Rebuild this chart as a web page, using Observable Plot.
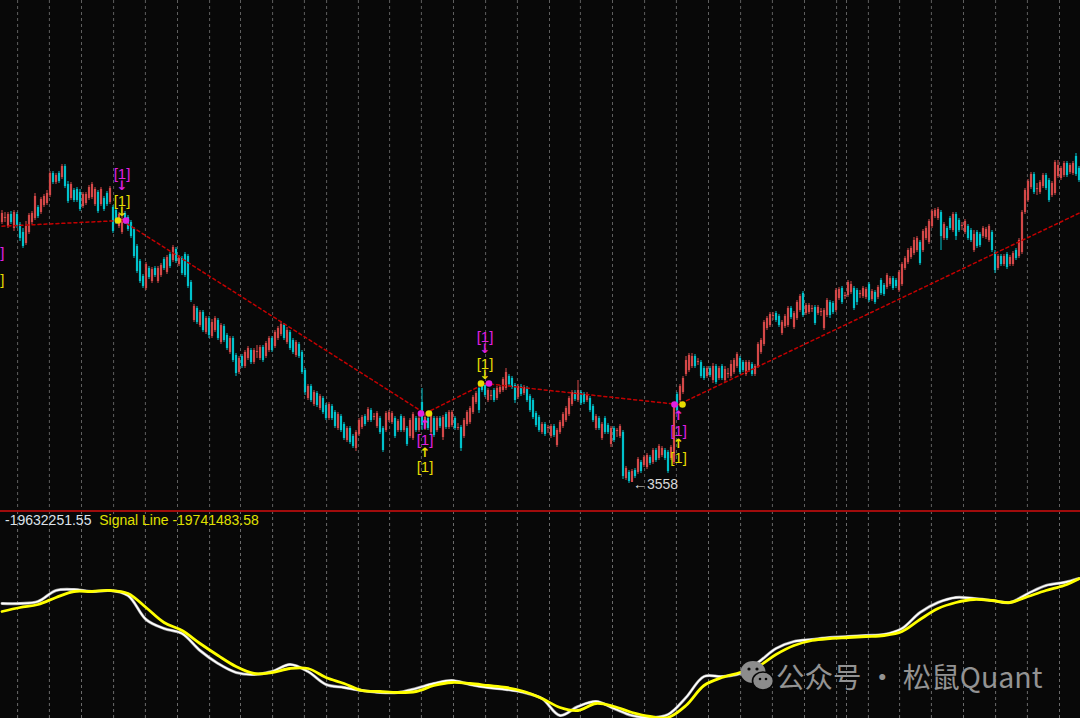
<!DOCTYPE html>
<html><head><meta charset="utf-8">
<script src="https://cdn.jsdelivr.net/npm/d3@7"></script>
<script src="https://cdn.jsdelivr.net/npm/@observablehq/plot@0.6"></script>
<style>
html,body{margin:0;padding:0;background:#080808;}
#wrap{position:relative;width:1080px;height:718px;overflow:hidden;background:#080808;font-family:"Liberation Sans",Arial,sans-serif;}
#main{position:absolute;left:0;top:0;}
#sub{position:absolute;left:0;top:511px;}
#sep{position:absolute;left:0;top:509.5px;width:1080px;height:2px;background:#a00c0c;}
#hdr{position:absolute;left:5px;top:511px;font-size:14px;line-height:18px;white-space:nowrap;}
#wm{position:absolute;left:739px;top:652px;height:46px;display:flex;align-items:center;color:#939393;font-family:"Noto Sans CJK SC",sans-serif;font-size:28.5px;white-space:nowrap;}
</style></head><body>
<div id="wrap">
  <div id="main"></div>
  <div id="sub"></div>
  <div id="sep"></div>
  <div id="hdr"><span id="v1" style="color:#dde3ea"></span>&nbsp;&nbsp;<span style="color:#e0e000">Signal Line <span id="v2"></span></span></div>
  <div id="wm"><svg width="36" height="44" viewBox="0 0 36 44" style="margin-right:1px">
    <ellipse cx="14" cy="19" rx="12.5" ry="11" fill="#8c8c8c"/>
    <ellipse cx="24" cy="28" rx="10.5" ry="9" fill="#8c8c8c" stroke="#080808" stroke-width="1.6"/>
    <circle cx="10" cy="16" r="1.6" fill="#080808"/><circle cx="18" cy="16" r="1.6" fill="#080808"/>
    <circle cx="21" cy="26" r="1.3" fill="#080808"/><circle cx="27" cy="26" r="1.3" fill="#080808"/>
  </svg><span>公众号&nbsp;·&nbsp;松鼠Quant</span></div>
</div>
<script>
// ---- price bars (bar index 0..359) ----
const open = [
3819,3823,3815,3827,3813,3827,3817,3809,3798,3809,
3819,3823,3834,3829,3836,3838,3846,3868,3859,3868,
3864,3875,3857,3843,3851,3852,3849,3835,3838,3843,
3844,3837,3849,3837,3843,3848,3839,3834,3831,3815,
3809,3828,3824,3819,3812,3795,3780,3765,3753,3773,
3760,3773,3760,3766,3782,3769,3787,3781,3792,3777,
3783,3787,3785,3759,3721,3733,3716,3729,3709,3723,
3705,3711,3721,3699,3715,3706,3689,3703,3686,3669,
3685,3675,3683,3691,3679,3689,3683,3694,3685,3691,
3703,3695,3703,3707,3716,3699,3709,3701,3686,3697,
3689,3671,3643,3655,3637,3648,3633,3643,3636,3623,
3635,3629,3613,3625,3617,3601,3613,3605,3593,3607,
3614,3625,3621,3631,3624,3615,3623,3613,3611,3621,
3619,3623,3611,3625,3611,3613,3605,3603,3623,3611,
3639,3613,3623,3609,3623,3611,3623,3604,3627,3614,
3616,3623,3613,3614,3605,3617,3619,3629,3639,3653,
3657,3656,3641,3645,3651,3643,3649,3651,3653,3665,
3663,3656,3644,3655,3648,3653,3645,3641,3628,3624,
3609,3617,3613,3605,3615,3596,3609,3615,3621,3627,
3637,3649,3641,3649,3647,3641,3643,3635,3613,3623,
3603,3623,3616,3597,3613,3610,3605,3609,3563,3569,
3559,3571,3569,3579,3576,3574,3584,3579,3591,3583,
3586,3591,3589,3583,3579,3647,3641,3649,3667,3671,
3675,3685,3679,3679,3673,3665,3673,3661,3675,3663,
3675,3661,3667,3665,3669,3675,3683,3679,3667,3671,
3677,3667,3675,3689,3697,3713,3716,3725,3728,3725,
3708,3715,3716,3733,3714,3723,3731,3748,3728,3729,
3732,3734,3728,3729,3713,3726,3739,3738,3731,3743,
3753,3745,3746,3749,3753,3751,3747,3745,3744,3757,
3742,3749,3744,3761,3756,3754,3757,3763,3761,3751,
3757,3773,3779,3784,3788,3791,3799,3791,3803,3799,
3815,3825,3823,3829,3803,3813,3823,3811,3827,3821,
3815,3809,3815,3811,3791,3809,3807,3805,3804,3801,
3809,3789,3773,3785,3777,3787,3777,3777,3791,3785,
3789,3829,3841,3854,3867,3852,3849,3855,3866,3861,
3846,3848,3865,3863,3866,3878,3869,3868,3885,3873];
const high = [
3831,3829,3829,3830,3831,3829,3819,3813,3820,3828,
3830,3848,3836,3844,3847,3851,3870,3870,3868,3870,
3877,3877,3860,3859,3853,3854,3852,3849,3849,3856,
3859,3854,3851,3854,3845,3850,3855,3836,3833,3829,
3825,3830,3826,3821,3814,3797,3782,3767,3779,3775,
3774,3775,3775,3778,3784,3786,3789,3796,3794,3786,
3785,3789,3787,3761,3737,3735,3731,3731,3725,3725,
3722,3725,3723,3718,3717,3708,3705,3705,3688,3685,
3687,3691,3695,3693,3693,3696,3696,3696,3700,3705,
3705,3711,3715,3720,3718,3714,3711,3703,3701,3699,
3691,3673,3657,3657,3651,3650,3647,3645,3638,3639,
3637,3631,3629,3627,3619,3615,3615,3607,3611,3623,
3626,3627,3634,3633,3628,3630,3625,3615,3630,3631,
3630,3625,3622,3627,3625,3615,3623,3629,3625,3626,
3653,3627,3625,3629,3625,3625,3625,3626,3629,3631,
3631,3625,3618,3616,3623,3631,3635,3646,3650,3656,
3659,3658,3653,3651,3653,3655,3656,3664,3673,3667,
3665,3658,3657,3657,3656,3655,3647,3643,3630,3626,
3619,3619,3616,3617,3617,3613,3621,3629,3635,3645,
3651,3651,3661,3651,3649,3649,3645,3637,3627,3625,
3619,3625,3618,3615,3615,3613,3617,3611,3575,3571,
3572,3573,3584,3581,3586,3588,3586,3593,3593,3597,
3595,3593,3591,3596,3637,3649,3657,3665,3685,3688,
3688,3687,3683,3681,3675,3675,3675,3678,3677,3675,
3677,3675,3673,3681,3683,3689,3685,3681,3681,3681,
3679,3677,3699,3703,3721,3725,3729,3729,3730,3727,
3721,3727,3735,3735,3730,3741,3747,3750,3738,3738,
3736,3736,3736,3733,3733,3743,3741,3740,3753,3754,
3755,3749,3761,3760,3755,3753,3751,3755,3754,3759,
3752,3751,3756,3763,3758,3768,3765,3765,3763,3771,
3779,3785,3793,3795,3804,3805,3801,3812,3815,3822,
3832,3833,3834,3831,3819,3815,3825,3829,3829,3823,
3819,3822,3817,3813,3811,3811,3809,3815,3814,3817,
3811,3791,3787,3787,3787,3789,3786,3790,3793,3803,
3831,3853,3862,3869,3869,3858,3861,3868,3868,3863,
3860,3881,3881,3875,3880,3880,3878,3880,3888,3875];
const low = [
3817,3819,3813,3817,3810,3813,3800,3793,3796,3807,
3817,3821,3823,3827,3834,3836,3844,3857,3857,3858,
3862,3853,3838,3841,3839,3839,3830,3833,3836,3841,
3842,3835,3828,3835,3830,3835,3837,3808,3817,3813,
3807,3817,3810,3803,3783,3768,3758,3753,3751,3762,
3758,3764,3758,3764,3771,3767,3773,3779,3778,3775,
3766,3764,3753,3739,3719,3717,3714,3709,3707,3703,
3703,3709,3701,3697,3699,3691,3687,3679,3665,3667,
3673,3673,3681,3677,3677,3683,3681,3679,3683,3689,
3689,3693,3701,3705,3701,3697,3691,3687,3684,3683,
3667,3646,3641,3639,3635,3634,3631,3627,3621,3621,
3621,3613,3611,3609,3601,3599,3597,3593,3590,3605,
3612,3615,3619,3619,3621,3613,3607,3589,3609,3619,
3617,3603,3609,3609,3609,3595,3603,3601,3609,3609,
3611,3611,3611,3607,3604,3609,3613,3601,3612,3612,
3614,3611,3611,3590,3603,3615,3617,3627,3637,3628,
3649,3644,3639,3641,3639,3641,3647,3649,3651,3655,
3652,3638,3642,3645,3646,3639,3629,3622,3614,3609,
3607,3605,3608,3603,3604,3594,3607,3613,3619,3625,
3635,3640,3639,3636,3637,3639,3629,3619,3611,3611,
3601,3607,3607,3594,3599,3604,3603,3562,3561,3558,
3559,3563,3567,3568,3574,3572,3576,3577,3579,3581,
3584,3581,3568,3581,3577,3629,3639,3647,3665,3669,
3673,3673,3676,3663,3661,3663,3664,3658,3657,3661,
3661,3659,3663,3663,3667,3673,3667,3669,3665,3669,
3665,3665,3673,3687,3695,3711,3714,3721,3719,3714,
3706,3713,3714,3722,3712,3721,3729,3724,3726,3727,
3729,3716,3726,3725,3711,3724,3723,3727,3729,3741,
3737,3742,3744,3747,3731,3736,3743,3743,3742,3739,
3740,3737,3742,3746,3745,3752,3755,3751,3753,3749,
3755,3771,3777,3782,3786,3789,3776,3789,3801,3797,
3813,3823,3821,3791,3801,3801,3811,3809,3801,3809,
3811,3807,3801,3799,3789,3793,3794,3803,3802,3799,
3789,3768,3771,3775,3775,3772,3775,3775,3781,3783,
3787,3827,3839,3852,3847,3846,3847,3853,3851,3839,
3844,3846,3863,3861,3864,3864,3867,3866,3865,3859];
const close = [
3828,3824,3827,3819,3829,3815,3803,3795,3815,3826,
3828,3845,3825,3842,3845,3848,3868,3859,3866,3860,
3875,3855,3840,3857,3841,3841,3832,3847,3847,3854,
3857,3852,3830,3852,3832,3837,3853,3810,3819,3827,
3822,3819,3812,3805,3785,3770,3760,3755,3777,3764,
3772,3766,3773,3776,3773,3784,3775,3794,3780,3784,
3768,3766,3755,3741,3735,3719,3729,3711,3723,3706,
3719,3723,3703,3716,3701,3693,3703,3681,3668,3683,
3675,3689,3693,3679,3691,3690,3694,3681,3698,3703,
3691,3709,3713,3717,3703,3711,3693,3689,3699,3685,
3669,3649,3655,3641,3649,3636,3645,3629,3623,3637,
3623,3615,3627,3611,3603,3613,3599,3595,3609,3621,
3624,3617,3632,3621,3625,3628,3609,3591,3628,3629,
3628,3605,3620,3611,3623,3597,3621,3627,3611,3623,
3616,3624,3613,3627,3606,3623,3615,3624,3614,3629,
3629,3613,3614,3593,3621,3629,3633,3644,3648,3631,
3651,3646,3651,3646,3641,3653,3654,3662,3669,3657,
3654,3641,3655,3647,3654,3641,3631,3624,3616,3611,
3617,3607,3614,3615,3606,3611,3619,3627,3633,3643,
3649,3642,3651,3638,3639,3647,3631,3621,3625,3613,
3617,3609,3609,3613,3601,3611,3615,3565,3573,3560,
3570,3565,3582,3570,3584,3586,3578,3591,3581,3595,
3593,3583,3570,3594,3635,3631,3655,3663,3681,3686,
3685,3675,3680,3665,3663,3673,3666,3675,3659,3673,
3663,3672,3668,3677,3681,3687,3669,3671,3679,3679,
3667,3675,3697,3701,3719,3723,3727,3726,3721,3716,
3719,3725,3733,3724,3728,3739,3745,3726,3736,3736,
3733,3718,3734,3730,3731,3741,3726,3729,3751,3752,
3739,3746,3759,3757,3733,3739,3748,3753,3752,3741,
3750,3739,3754,3748,3747,3766,3763,3753,3755,3769,
3777,3783,3791,3793,3801,3803,3778,3810,3813,3820,
3830,3831,3832,3805,3817,3803,3813,3827,3805,3811,
3816,3820,3803,3801,3807,3795,3796,3813,3812,3815,
3791,3771,3785,3777,3785,3774,3784,3788,3783,3801,
3829,3851,3860,3867,3849,3853,3859,3866,3853,3841,
3858,3879,3876,3873,3878,3866,3876,3878,3867,3861];

// session separators (bar index)
const gridIdx = [5.2,15.8,26.5,37.2,47.8,58.5,69.2,79.5,90.2,100.8,108.2,118.8,129.2,139.8,150.5,161.2,171.8,182.5,192.8,203.5,214.2,224.8,235.5,246.2,256.8,267.5,278.2,281.5,288.8,299.2,309.8,320.5,331.2,341.8,352.5];

// zigzag pivots
const zigIdx   = [-2, 40, 141, 161, 225.5, 359.5];
const zigPrice = [3815, 3821, 3628, 3658, 3637, 3829];
const pivKind  = ["low","high","low","high","low"];
const pivLabel = ["[1]","[1]","[1]","[1]","[1]"];

// indicator panel (values in millions)
const indIdx = [0,6,12,18,24,30,36,42,48,54,60,66,72,78,84,90,96,102,108,114,120,126,132,138,144,150,156,162,168,174,180,186,192,198,204,210,216,222,228,234,240,246,252,258,264,270,276,282,288,294,300,306,312,318,324,330,336,342,348,354,359];
const macdVals = [-44.6,-44.6,-42.6,-31.6,-30.6,-32.6,-31.6,-36.6,-60.6,-69.6,-74.6,-91.6,-104.6,-113.6,-115.6,-112.6,-105.6,-112.6,-125.6,-128.6,-131.6,-133.6,-133.6,-129.6,-124.6,-121.6,-125.6,-128.6,-130.6,-133.6,-139.6,-156.6,-147.6,-142.6,-149.6,-156.6,-158.6,-155.6,-138.6,-117.6,-117.6,-114.6,-103.6,-89.6,-82.6,-80.6,-78.6,-77.6,-76.6,-75.6,-69.6,-53.6,-43.6,-38.6,-39.6,-41.6,-43.6,-34.6,-26.6,-23.6,-19.63];
const signalVals = [-52.6,-48.6,-45.6,-38.6,-32.6,-32.6,-31.6,-34.6,-48.6,-63.6,-71.6,-84.6,-96.6,-107.6,-114.6,-113.6,-109.6,-109.6,-118.6,-124.6,-131.6,-132.6,-133.6,-132.6,-126.6,-123.6,-124.6,-126.6,-128.6,-132.6,-139.6,-148.6,-151.6,-144.6,-147.6,-153.6,-157.6,-158.6,-146.6,-126.6,-118.6,-113.6,-107.6,-95.6,-86.6,-81.6,-79.6,-78.6,-77.6,-76.6,-72.6,-60.6,-49.6,-43.6,-40.6,-41.6,-43.6,-37.6,-31.6,-26.6,-19.74];
const macdLabel = "-19632251.55";
const signalLabel = "-19741483.58";

// ---- build ----
const RED = "#d44848", CYAN = "#00c2cc", MAG = "#e020e0", YEL = "#e6dc00";
const FONT = "Liberation Sans, Arial, sans-serif";
const candles = open.map((o, i) => ({i, o, h: high[i], l: low[i], c: close[i]}));
const ups = candles.filter(d => d.c > d.o);
const downs = candles.filter(d => d.c <= d.o);
const zig = zigIdx.map((i, k) => ({i, p: zigPrice[k]}));
const piv = pivKind.map((kind, k) => ({i: zigIdx[k], p: zigPrice[k], kind, label: pivLabel[k]}));
const hi = piv.filter(d => d.kind === "high");
const lo = piv.filter(d => d.kind === "low");
const hiOn = hi.filter(d => d.i >= 0);
const loOn = lo.filter(d => d.i >= 0);
const minI = d3.minIndex(low);
const minPt = [{i: minI, p: low[minI]}];

const lab = (data, dy, fill) => Plot.text(data, {x: "i", y: "p", text: "label", dy, fill, fontSize: 15, fontFamily: FONT});
const arr = (data, dy, fill, glyph) => Plot.text(data, {x: "i", y: "p", text: () => glyph, dy, fill, fontSize: 13, fontWeight: "bold", fontFamily: "DejaVu Sans, sans-serif"});

const xs = {domain: [-0.5, 359.5], axis: null};
const mainPlot = Plot.plot({
  width: 1080, height: 511, margin: 0,
  x: xs, y: {domain: [3530, 4041], axis: null},
  style: {background: "transparent"},
  marks: [
    Plot.ruleX(gridIdx, {stroke: "#5e5e5e", strokeDasharray: "3,3", strokeWidth: 1}),
    Plot.ruleX(ups, {x: "i", y1: "l", y2: "h", stroke: RED, strokeWidth: 1}),
    Plot.ruleX(downs, {x: "i", y1: "l", y2: "h", stroke: CYAN, strokeWidth: 1}),
    Plot.ruleX(ups, {x: "i", y1: "o", y2: "c", stroke: RED, strokeWidth: 2.2}),
    Plot.ruleX(downs, {x: "i", y1: "o", y2: "c", stroke: CYAN, strokeWidth: 2.2}),
    Plot.line(zig, {x: "i", y: "p", stroke: "#c40000", strokeWidth: 1.5, strokeDasharray: "3,3"}),
    Plot.dot(hiOn, {x: "i", y: "p", r: 3.3, fill: YEL, dx: -4}),
    Plot.dot(hiOn, {x: "i", y: "p", r: 3.3, fill: MAG, dx: 4}),
    Plot.dot(loOn, {x: "i", y: "p", r: 3.3, fill: MAG, dx: -4}),
    Plot.dot(loOn, {x: "i", y: "p", r: 3.3, fill: YEL, dx: 4}),
    lab(hi, -46, MAG), arr(hi, -35, MAG, "↓"),
    lab(hi, -19, YEL), arr(hi, -9, YEL, "↓"),
    arr(loOn, 11, MAG, "↑"), lab(lo, 27, MAG),
    arr(loOn, 39, YEL, "↑"), lab(lo, 54, YEL),
    Plot.text(minPt, {x: "i", y: "p", text: d => "←" + d.p, dx: 4, dy: 1, textAnchor: "start", fill: "#d8d8d8", fontSize: 14, fontFamily: FONT})
  ]
});
document.getElementById("main").append(mainPlot);

const ind = indIdx.map((i, k) => ({i, m: macdVals[k], s: signalVals[k]}));
const subPlot = Plot.plot({
  width: 1080, height: 207, margin: 0,
  x: xs, y: {domain: [-159.6, 47.4], axis: null},
  style: {background: "transparent"},
  marks: [
    Plot.ruleX(gridIdx, {stroke: "#6a6a6a", strokeDasharray: "3,3", strokeWidth: 1}),
    Plot.line(ind, {x: "i", y: "m", stroke: "#9a9a9a", strokeWidth: 3, curve: "catmull-rom"}),
    Plot.line(ind, {x: "i", y: "m", stroke: "#ffffff", strokeWidth: 1.8, curve: "catmull-rom"}),
    Plot.line(ind, {x: "i", y: "s", stroke: "#ffff00", strokeWidth: 2.8, curve: "catmull-rom"})
  ]
});
document.getElementById("sub").append(subPlot);
document.getElementById("v1").textContent = macdLabel;
document.getElementById("v2").textContent = signalLabel;
</script>
</body></html>
